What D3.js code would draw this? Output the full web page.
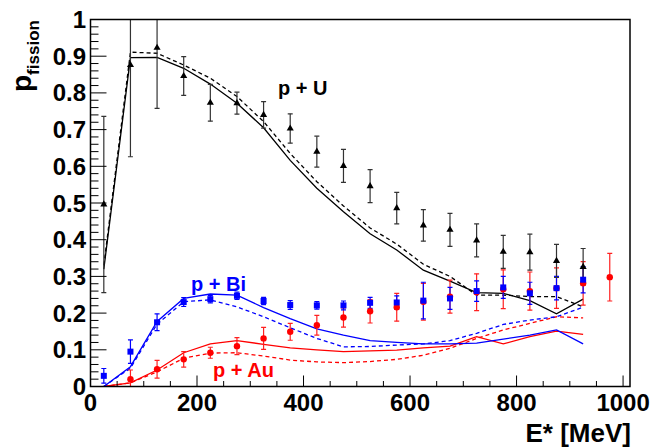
<!DOCTYPE html>
<html><head><meta charset="utf-8">
<script src="https://cdn.jsdelivr.net/npm/d3@7"></script>
<style>body{margin:0;background:#fff;}svg{display:block;font-family:"Liberation Sans",Arial,sans-serif;font-weight:bold;}</style>
</head><body><svg id="c" width="654" height="447"></svg>
<script>
// ---- data ----
const energies = [25,75,125,175,225,275,325,375,425,475,525,575,625,675,725,775,825,875,925];
const uVal = [0.496,0.876,0.923,0.846,0.773,0.772,0.740,0.703,0.640,0.601,0.546,0.486,0.439,0.427,0.398,0.367,0.366,0.342,0.326];
const uErr = [0.240,0.250,0.165,0.053,0.050,0.030,0.036,0.040,0.042,0.045,0.045,0.043,0.043,0.045,0.045,0.045,0.049,0.045,0.050];
const biVal = [0.029,0.095,0.175,0.230,0.238,0.247,0.233,0.222,0.221,0.221,0.228,0.229,0.234,0.240,0.260,0.270,0.254,0.268,0.291];
const biErr = [0.020,0.032,0.023,0.012,0.010,0.010,0.010,0.012,0.010,0.012,0.015,0.018,0.050,0.030,0.028,0.030,0.030,0.032,0.036];
const auEnergies = [75,125,175,225,275,325,375,425,475,525,575,625,675,725,775,825,875,925,975];
const auVal = [0.020,0.047,0.074,0.092,0.110,0.131,0.149,0.167,0.188,0.205,0.216,0.231,0.245,0.257,0.265,0.260,0.268,0.281,0.298];
const auErr = [0.025,0.024,0.021,0.015,0.023,0.030,0.023,0.027,0.026,0.032,0.038,0.050,0.045,0.050,0.053,0.052,0.055,0.059,0.065];
// model curves (at energies)
const uSolid  = [0.320,0.896,0.897,0.867,0.824,0.772,0.705,0.616,0.540,0.476,0.416,0.372,0.317,0.287,0.256,0.254,0.234,0.198,0.238];
const uDash   = [0.330,0.911,0.908,0.876,0.840,0.790,0.722,0.635,0.558,0.492,0.432,0.388,0.333,0.300,0.249,0.249,0.245,0.245,0.217];
const biSolid = [0.000,0.054,0.177,0.240,0.252,0.249,0.215,0.185,0.157,0.140,0.125,0.120,0.116,0.116,0.118,0.129,0.140,0.154,0.116];
const biDash  = [0.000,0.050,0.170,0.231,0.236,0.217,0.190,0.160,0.131,0.108,0.109,0.113,0.116,0.125,0.145,0.169,0.181,0.190,0.216];
const auSolid = [0.000,0.010,0.045,0.092,0.116,0.125,0.115,0.105,0.100,0.095,0.097,0.099,0.105,0.110,0.136,0.116,0.136,0.151,0.142];
const auDash  = [0.000,0.010,0.040,0.077,0.091,0.092,0.083,0.072,0.067,0.065,0.068,0.074,0.085,0.104,0.131,0.154,0.172,0.190,0.187];
const xTicks = [0,200,400,600,800,1000];
const yTicks = [0,0.1,0.2,0.3,0.4,0.5,0.6,0.7,0.8,0.9,1];
const yTickLabels = ["0","0.1","0.2","0.3","0.4","0.5","0.6","0.7","0.8","0.9","1"];

// ---- layout ----
const svg = d3.select("#c");
const L=90.5, R=630, T=19.5, B=386.5;
const x = d3.scaleLinear().domain([0,1013]).range([L,R]);
const y = d3.scaleLinear().domain([0,1]).range([B,T]);

svg.append("clipPath").attr("id","clip").append("rect").attr("x",L).attr("y",T).attr("width",R-L).attr("height",B-T);
const plot = svg.append("g").attr("clip-path","url(#clip)");

// axes ticks (inward)
const xMinor = d3.range(0,1013,50);
svg.append("g").selectAll("line").data(xMinor).join("line")
  .attr("x1",d=>x(d)).attr("x2",d=>x(d)).attr("y1",B)
  .attr("y2",d=> d%200===0 ? B-11 : B-5.5)
  .attr("stroke","#000").attr("stroke-width",1);
const yMinor = d3.range(0,51).map(i=>i*0.02);
svg.append("g").selectAll("line").data(yMinor).join("line")
  .attr("y1",d=>y(d)).attr("y2",d=>y(d)).attr("x1",L)
  .attr("x2",(d,i)=> i%5===0 ? L+16 : L+8)
  .attr("stroke","#000").attr("stroke-width",1);

// labels
svg.append("g").selectAll("text").data(xTicks).join("text")
  .attr("x",d=>x(d)).attr("y",411).attr("text-anchor","middle")
  .attr("font-size",24).text(d=>d);
svg.append("g").selectAll("text").data(yTicks).join("text")
  .attr("x",86).attr("y",d=>y(d)+8.5).attr("text-anchor","end")
  .attr("font-size",24).text((d,i)=>yTickLabels[i]);

svg.append("text").attr("x",631).attr("y",442).attr("text-anchor","end")
  .attr("font-size",26).text("E* [MeV]");
const yt = svg.append("text").attr("transform","translate(31,92) rotate(-90)");
yt.append("tspan").attr("font-size",28).text("p");
yt.append("tspan").attr("font-size",17).attr("dy",8).text("fission");

// model lines
const line = d3.line().x((d,i)=>x(energies[i])).y(d=>y(d));
const curves = [
  [auSolid,"#ff0000",null],[auDash,"#ff0000","4,3"],
  [biSolid,"#0000ff",null],[biDash,"#0000ff","4,3"],
  [uSolid,"#000",null],[uDash,"#000","4,3"]
];
curves.forEach(([v,c,dash])=>{
  plot.append("path").attr("d",line(v)).attr("fill","none")
    .attr("stroke",c).attr("stroke-width",1.3).attr("stroke-dasharray",dash);
});

// error bars + markers
function errBars(xs, vals, errs, color){
  const g = plot.append("g").attr("stroke",color).attr("stroke-width",1.2);
  xs.forEach((e,i)=>{
    const xp=x(e), y1=y(vals[i]+errs[i]), y2=y(vals[i]-errs[i]);
    g.append("line").attr("x1",xp).attr("x2",xp).attr("y1",y1).attr("y2",y2);
    g.append("line").attr("x1",xp-2.5).attr("x2",xp+2.5).attr("y1",y1).attr("y2",y1);
    g.append("line").attr("x1",xp-2.5).attr("x2",xp+2.5).attr("y1",y2).attr("y2",y2);
  });
}
errBars(auEnergies, auVal, auErr, "#ff2020");
errBars(energies, biVal, biErr, "#0000ff");
errBars(energies, uVal, uErr, "#333");

plot.append("g").selectAll("circle").data(auVal).join("circle")
  .attr("cx",(d,i)=>x(auEnergies[i])).attr("cy",d=>y(d)).attr("r",3.2).attr("fill","#ff0000");
plot.append("g").selectAll("rect").data(biVal).join("rect")
  .attr("x",(d,i)=>x(energies[i])-3).attr("y",d=>y(d)-3).attr("width",6).attr("height",6).attr("fill","#0000ff");
const tri = d3.symbol().type(d3.symbolTriangle).size(22);
plot.append("g").selectAll("path").data(uVal).join("path")
  .attr("transform",(d,i)=>`translate(${x(energies[i])},${y(d)})`).attr("d",tri).attr("fill","#000");

// annotations
svg.append("text").attr("x",278).attr("y",95).attr("font-size",20).attr("fill","#000").text("p + U");
svg.append("text").attr("x",191).attr("y",291).attr("font-size",20).attr("fill","#0000ff").text("p + Bi");
svg.append("text").attr("x",213).attr("y",377).attr("font-size",20).attr("fill","#ff0000").text("p + Au");

// frame
svg.append("rect").attr("x",L).attr("y",T).attr("width",R-L).attr("height",B-T)
  .attr("fill","none").attr("stroke","#000").attr("stroke-width",1.5);
</script></body></html>
